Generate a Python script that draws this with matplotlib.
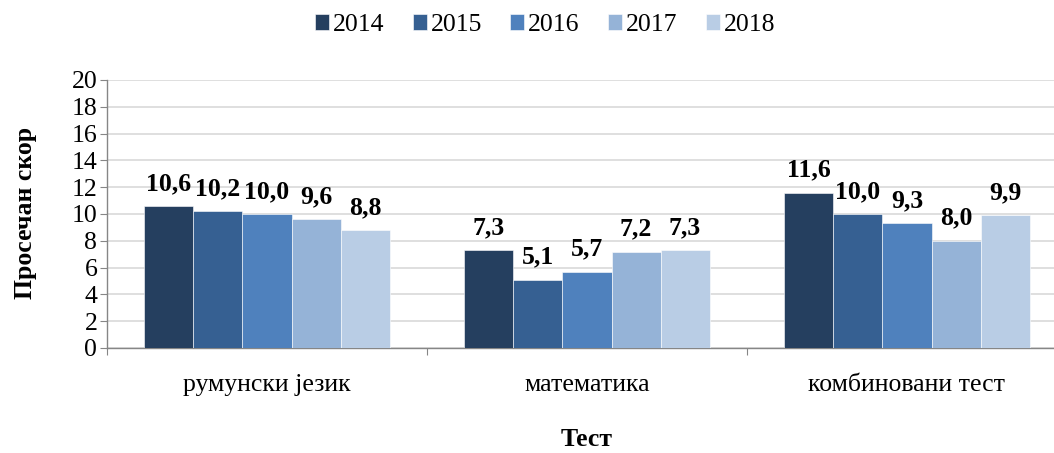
import matplotlib
matplotlib.use("Agg")
import matplotlib.pyplot as plt
import numpy as np

plt.rcParams['font.family'] = ['Liberation Serif', 'DejaVu Serif']

categories = ["румунски језик", "математика", "комбиновани тест"]
years = ["2014", "2015", "2016", "2017", "2018"]
values = {
    "2014": [10.6, 7.3, 11.6],
    "2015": [10.2, 5.1, 10.0],
    "2016": [10.0, 5.7, 9.3],
    "2017": [9.6, 7.2, 8.0],
    "2018": [8.8, 7.3, 9.9],
}
colors = ["#253F5F", "#366092", "#4F81BD", "#95B3D7", "#B9CDE5"]
yticks = [0, 2, 4, 6, 8, 10, 12, 14, 16, 18, 20]

FS = 18.5

fig = plt.figure(figsize=(10.54, 4.53), dpi=100)
ax = fig.add_axes([107/1054, 105/453, 960/1054, 268/453])

n = len(years)
bw = 0.766 / n
x = np.arange(len(categories))
handles = []
for i, (yr, c) in enumerate(zip(years, colors)):
    pos = x - 0.766/2 + bw*(i+0.5)
    b = ax.bar(pos, values[yr], width=bw, color=c, edgecolor='white', linewidth=0.4, zorder=3, label=yr)
    handles.append(b)
    for p, v in zip(pos, values[yr]):
        ax.annotate(f"{v:.1f}".replace('.', ','), (p, v), xytext=(0, 8), textcoords='offset points',
                    ha='center', va='bottom', fontsize=FS, fontweight='bold')

ax.set_xlim(-0.5, len(categories) - 0.5)
ax.set_ylim(0, 20)
ax.set_yticks(yticks)
ax.set_yticklabels([str(t) for t in yticks], fontsize=FS)
ax.yaxis.grid(True, color='#D9D9D9', linewidth=1.2, zorder=0)
ax.set_axisbelow(True)

ax.set_xticks(np.arange(-0.5, len(categories), 1.0))
ax.set_xticklabels([])
ax.set_xticks(x, minor=True)
ax.set_xticklabels(categories, minor=True, fontsize=FS)
ax.tick_params(axis='x', which='minor', length=0, pad=19)
ax.tick_params(axis='x', which='major', length=5, color='#868686', direction='out')
ax.tick_params(axis='y', length=5, color='#868686', pad=2)

for s in ['top', 'right']:
    ax.spines[s].set_visible(False)
for s in ['left', 'bottom']:
    ax.spines[s].set_color('#868686')
    ax.spines[s].set_linewidth(1)

fig.text(26/1054, 1 - 213/453, "Просечан скор", ha='center', va='center', rotation=90,
         fontsize=FS, fontweight='bold')
fig.text(587/1054, 1 - 440/453, "Тест", ha='center', va='center', fontsize=FS, fontweight='bold')

leg = fig.legend(handles=handles, labels=years, loc='center', bbox_to_anchor=(545/1054, 1 - 25/453),
                 ncol=5, frameon=False, fontsize=FS, handlelength=0.55, handleheight=0.55,
                 handletextpad=0.15, columnspacing=1.1, borderaxespad=0, borderpad=0)

fig.savefig("out.png", dpi=100)
